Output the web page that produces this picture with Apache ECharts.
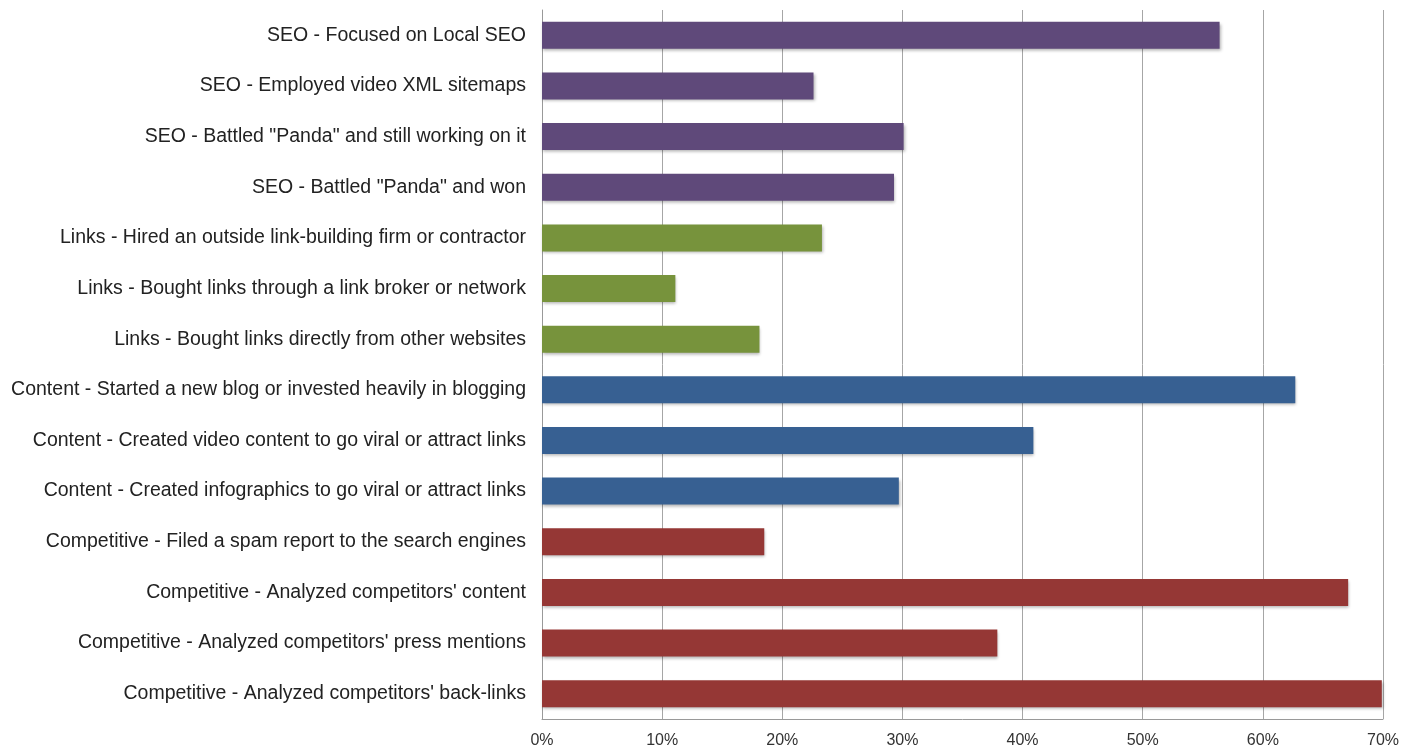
<!DOCTYPE html>
<html><head><meta charset="utf-8">
<script src="https://cdn.jsdelivr.net/npm/echarts@6/dist/echarts.min.js"></script>
<style>html,body{margin:0;padding:0;background:#fff}#c{width:1424px;height:754px}</style>
</head><body><div id="c"></div>
<script>
const categories = [
  'SEO - Focused on Local SEO',
  'SEO - Employed video XML sitemaps',
  'SEO - Battled "Panda" and still working on it',
  'SEO - Battled "Panda" and won',
  'Links - Hired an outside link-building firm or contractor',
  'Links - Bought links through a link broker or network',
  'Links - Bought links directly from other websites',
  'Content - Started a new blog or invested heavily in blogging',
  'Content - Created video content to go viral or attract links',
  'Content - Created infographics to go viral or attract links',
  'Competitive - Filed a spam report to the search engines',
  "Competitive - Analyzed competitors' content",
  "Competitive - Analyzed competitors' press mentions",
  "Competitive - Analyzed competitors' back-links"
];
const values = [56.4, 22.6, 30.1, 29.3, 23.3, 11.1, 18.1, 62.7, 40.9, 29.7, 18.5, 67.1, 37.9, 69.9];
const groups = ['SEO','SEO','SEO','SEO','Links','Links','Links','Content','Content','Content','Competitive','Competitive','Competitive','Competitive'];
const groupColors = {SEO:'#5F497A', Links:'#77933C', Content:'#376092', Competitive:'#953735'};

const chart = echarts.init(document.getElementById('c'));
chart.setOption({
  animation:false,
  grid:{left:542, right:41, top:10, bottom:35},
  xAxis:{type:'value', min:0, max:70, interval:10,
    axisLine:{show:true, lineStyle:{color:'#999'}},
    axisTick:{show:false},
    splitLine:{show:true, lineStyle:{color:'#a6a6a6', width:1}},
    axisLabel:{formatter:v=>v+'%', color:'#333', fontSize:16, fontFamily:'Liberation Sans, Arial', margin:14}
  },
  yAxis:{type:'category', data:categories, inverse:true,
    axisLine:{show:true, lineStyle:{color:'#999'}},
    axisTick:{show:false},
    axisLabel:{color:'#222', fontSize:19.5, fontFamily:'Liberation Sans, Arial', margin:16}
  },
  series:[{type:'bar', barWidth:27,
    data: values.map((v,i)=>({value:v, itemStyle:{color:groupColors[groups[i]]}})),
    itemStyle:{shadowColor:'rgba(0,0,0,0.3)', shadowBlur:3, shadowOffsetX:1, shadowOffsetY:2}
  }]
});
</script></body></html>
